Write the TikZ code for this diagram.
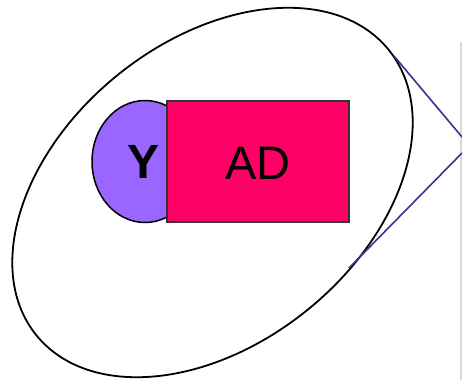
\documentclass[tikz,border=0pt]{standalone}
\usepackage{fontspec}
\setmainfont{Liberation Sans}
\usetikzlibrary{shapes.geometric}
\definecolor{ypurple}{HTML}{9966FF}
\definecolor{admag}{HTML}{FF0066}
\definecolor{lineblue}{HTML}{333399}
\tikzset{
  outer/.style={draw=black, line width=1.8pt},
  yshape/.style={draw=black, line width=1.5pt, fill=ypurple},
  adbox/.style={draw=black!80, line width=1.5pt, fill=admag, rectangle, inner sep=0pt, minimum width=182pt, minimum height=121pt},
  bigtxt/.style={font=\fontsize{47}{50}\selectfont, inner sep=0pt},
  zoomline/.style={draw=lineblue, line width=1.6pt},
}
\begin{document}
\begin{tikzpicture}[x=1pt,y=-1pt]
\useasboundingbox (0,0) rectangle (462,380);
% slide edge
\draw[black!15, line width=2pt] (461,42) -- (461,380);
% outer tilted ellipse
\draw[outer, rotate around={39:(212.5,192.5)}] (212.5,192.5) ellipse [x radius=226.7pt, y radius=151pt];
% purple Y shape
\draw[yshape] (145,161.5) ellipse [x radius=53pt, y radius=61pt];
\node[adbox] (ad) at (258,161.5) {};
\node[bigtxt] (adtxt) at (258,163) {AD};
\node[bigtxt, font=\fontsize{48}{50}\selectfont\bfseries] (ytxt) at (144,162) {Y};
% zoom lines
\coordinate (l1a) at (394,56);
\coordinate (l1b) at (462,137);
\coordinate (l2a) at (462,153);
\coordinate (l2b) at (349,268);
\draw[zoomline] (l1a) -- (l1b);
\draw[zoomline] (l2a) -- (l2b);
\end{tikzpicture}
\end{document}
